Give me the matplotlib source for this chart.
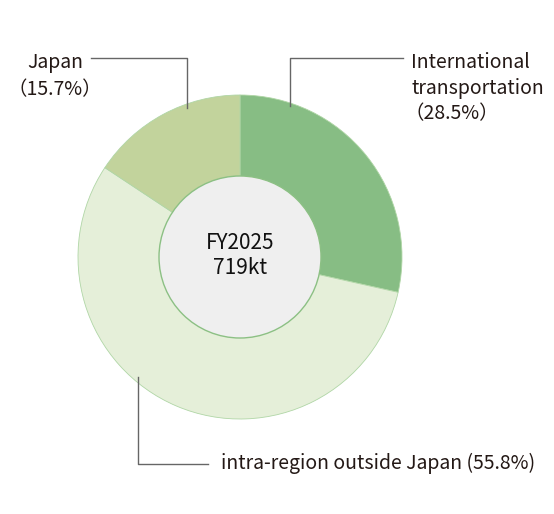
import matplotlib
matplotlib.use("Agg")
import matplotlib.pyplot as plt
from matplotlib.patches import Circle

plt.rcParams['font.family'] = ['Noto Sans CJK JP', 'DejaVu Sans']

categories = ["International", "intra-region outside Japan", "Japan"]
shares = [28.5, 55.8, 15.7]
colors = ["#87bd84", "#e5efd9", "#c2d39c"]
center_lines = ["FY2025", "719kt"]

W, H = 554, 514
fig = plt.figure(figsize=(W / 100, H / 100), dpi=100)
ax = fig.add_axes([0, 0, 1, 1])

def Y(y):
    return H - y

cx, cy = 240, 257
R, r_in = 162, 81

ax.pie(shares, colors=colors, startangle=90, counterclock=False,
       center=(cx, Y(cy)), radius=R,
       wedgeprops=dict(edgecolor="#b0d6a6", linewidth=0.6))
ax.set_xlim(0, W)
ax.set_ylim(0, H)
ax.set_aspect('equal')
ax.axis('off')
ax.add_patch(Circle((cx, Y(cy)), r_in, facecolor="#efefef", edgecolor="#8cc084",
                    linewidth=1.0, zorder=5))

ax.text(cx, Y(249), center_lines[0], ha='center', va='baseline',
        fontsize=15, color="#111111", zorder=6)
ax.text(cx, Y(273.5), center_lines[1], ha='center', va='baseline',
        fontsize=15, color="#111111", zorder=6)

txt = "#231815"
lc = "#666666"
fs = 14

# International
ax.plot([403, 290, 290], [Y(57.5), Y(57.5), Y(106)], color=lc, lw=1.0)
ax.text(411, Y(67.5), categories[0], ha='left', va='baseline', fontsize=fs, color=txt)
ax.text(411, Y(94), "transportation", ha='left', va='baseline', fontsize=fs, color=txt)
ax.text(405, Y(119), "（%.1f%%）" % shares[0], ha='left', va='baseline', fontsize=fs, color=txt)

# Japan
ax.plot([91, 186.5, 186.5], [Y(57.5), Y(57.5), Y(108)], color=lc, lw=1.0)
ax.text(55, Y(68), categories[2], ha='center', va='baseline', fontsize=fs, color=txt)
ax.text(55, Y(95.5), "（%.1f%%）" % shares[2], ha='center', va='baseline', fontsize=fs, color=txt)

# intra-region
ax.plot([137.7, 137.7, 208], [Y(377), Y(464), Y(464)], color=lc, lw=1.0)
ax.text(221, Y(468.5), "%s (%.1f%%)" % (categories[1], shares[1]),
        ha='left', va='baseline', fontsize=fs, color=txt)

fig.savefig("out.png", dpi=100)
